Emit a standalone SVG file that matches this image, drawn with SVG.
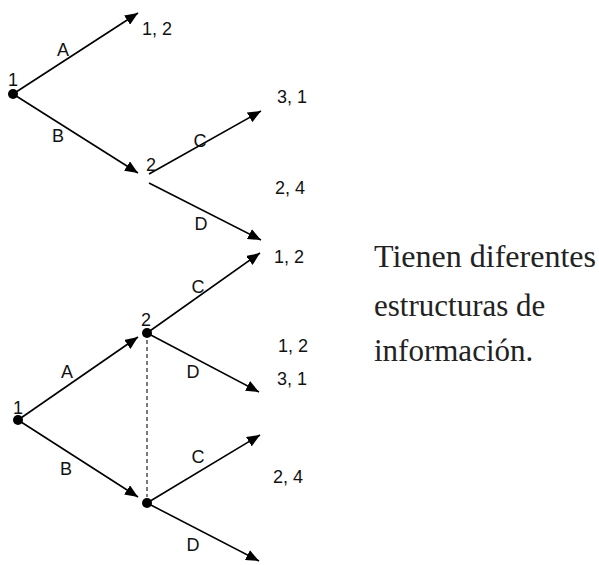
<svg xmlns="http://www.w3.org/2000/svg" width="599" height="565" viewBox="0 0 599 565">
<style>
.lbl{font-family:"Liberation Sans",Arial,sans-serif;font-size:18px;fill:#111}
.mid{text-anchor:middle}
.edge{stroke:#000;stroke-width:1.6;fill:none}
.arr{marker-end:url(#ah)}
.dash{stroke:#333;stroke-width:1.3;stroke-dasharray:4 3;fill:none}
.dot{fill:#000}
.note{font-family:"Liberation Serif","Times New Roman",serif;font-size:31px;fill:#222}
</style>
<defs>
<marker id="ah" markerUnits="userSpaceOnUse" markerWidth="14" markerHeight="11" refX="13" refY="5.5" orient="auto">
<path d="M0,0 L13,5.5 L0,11 z" fill="#000"/>
</marker>
</defs>
<rect width="599" height="565" fill="#fff"/>
<g id="connectors">
<line class="edge arr" x1="13" y1="94" x2="138" y2="13"/>
<line class="edge arr" x1="13" y1="94" x2="138" y2="173"/>
<line class="edge arr" x1="149" y1="174" x2="261" y2="111"/>
<line class="edge arr" x1="149" y1="183" x2="261" y2="240"/>
<line class="edge arr" x1="18" y1="420" x2="138" y2="337"/>
<line class="edge arr" x1="18" y1="420" x2="138" y2="497"/>
<line class="edge arr" x1="147" y1="333" x2="260" y2="253"/>
<line class="edge arr" x1="147" y1="333" x2="259" y2="392"/>
<line class="edge arr" x1="147" y1="503" x2="260" y2="435"/>
<line class="edge arr" x1="147" y1="503" x2="259" y2="561"/>
<line class="dash" x1="147" y1="340" x2="147" y2="497"/>
</g>
<g id="labels">
<text class="lbl mid" x="63" y="56">A</text>
<text class="lbl mid" x="58" y="142">B</text>
<text class="lbl mid" x="200" y="147">C</text>
<text class="lbl mid" x="201" y="230">D</text>
<text class="lbl mid" x="67" y="378">A</text>
<text class="lbl mid" x="66" y="475">B</text>
<text class="lbl mid" x="198" y="293">C</text>
<text class="lbl mid" x="193" y="378">D</text>
<text class="lbl mid" x="198" y="463">C</text>
<text class="lbl mid" x="193" y="551">D</text>
</g>
<g id="node-top-1">
<circle class="dot" cx="13" cy="94" r="5"/>
<text class="lbl mid" x="13" y="86">1</text>
</g>
<g id="node-top-2">
<text class="lbl mid" x="151" y="171">2</text>
</g>
<g id="payoff-top-A"><text class="lbl" x="142" y="35">1, 2</text></g>
<g id="payoff-top-C"><text class="lbl" x="277" y="103">3, 1</text></g>
<g id="payoff-top-D"><text class="lbl" x="275" y="194">2, 4</text></g>
<g id="node-bot-1">
<circle class="dot" cx="18" cy="420" r="5"/>
<text class="lbl mid" x="18" y="414">1</text>
</g>
<g id="node-bot-2a">
<circle class="dot" cx="147" cy="333" r="5"/>
<text class="lbl mid" x="146" y="326">2</text>
</g>
<g id="node-bot-2b">
<circle class="dot" cx="147" cy="503" r="5"/>
</g>
<g id="payoff-bot-AC"><text class="lbl" x="274" y="263">1, 2</text></g>
<g id="payoff-bot-AD"><text class="lbl" x="278" y="352">1, 2</text></g>
<g id="payoff-bot-BC"><text class="lbl" x="277" y="385">3, 1</text></g>
<g id="payoff-bot-BD"><text class="lbl" x="273" y="483">2, 4</text></g>
<g id="note">
<text class="note" x="374" y="267" textLength="222" lengthAdjust="spacingAndGlyphs">Tienen diferentes</text>
<text class="note" x="374" y="316">estructuras de</text>
<text class="note" x="374" y="361">información.</text>
</g>
</svg>
